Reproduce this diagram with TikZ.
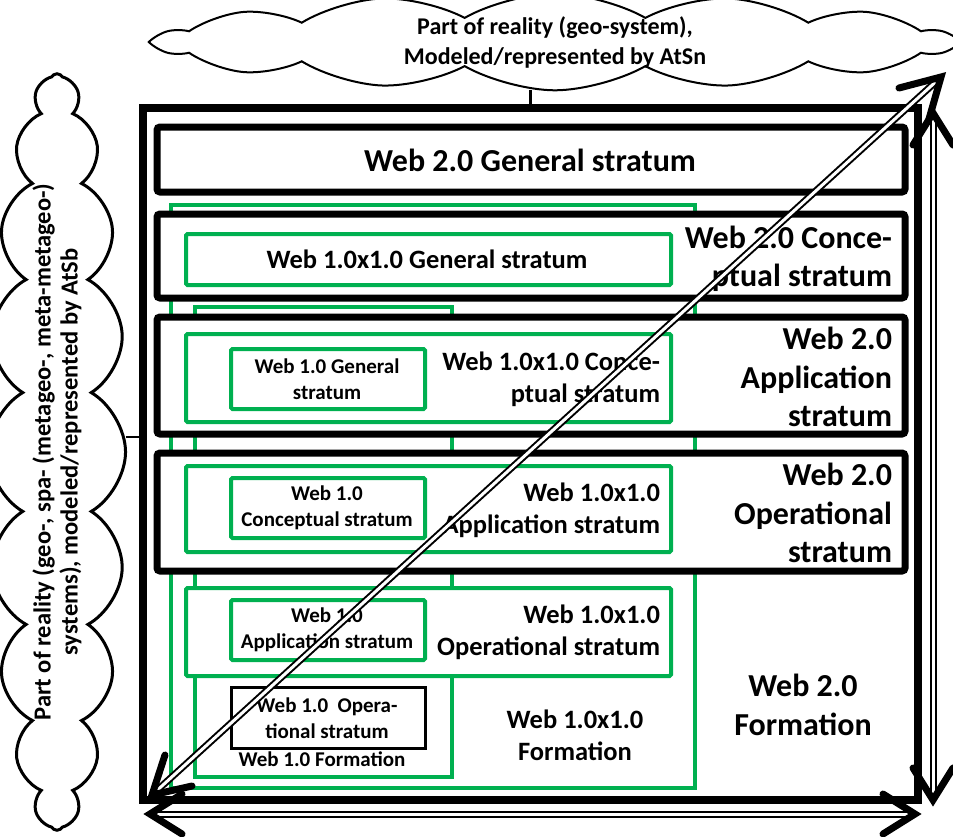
\documentclass[tikz,border=0pt]{standalone}
\usepackage{fontspec}
\setmainfont{Carlito}
\usetikzlibrary{shapes.symbols,fit,calc}
\definecolor{webgreen}{HTML}{00B050}
\begin{document}
\begin{tikzpicture}[x=1pt,y=-1pt,
  every node/.style={inner sep=0pt, outer sep=0pt},
  outerbox/.style={draw, line width=8pt, fill=white},
  blkbox/.style={draw, line width=7pt, fill=white, rounded corners=3pt},
  grnframe/.style={draw=webgreen, line width=4pt},
  grnbox/.style={draw=webgreen, line width=4pt, fill=white, rounded corners=1.5pt},
  thinblk/.style={draw, line width=3pt, fill=white},
  big/.style={font=\fontsize{32}{38.5}\selectfont\bfseries},
  mid/.style={font=\fontsize{26.5}{32}\selectfont\bfseries},
  small/.style={font=\fontsize{21}{26}\selectfont\bfseries},
  cloudtxt/.style={font=\fontsize{24}{30}\selectfont\bfseries},
  shaft/.style={draw, double=white, double distance=3pt, line width=2pt},
  barb/.style={draw, line width=7pt, line cap=round, line join=miter},
  link/.style={draw, line width=2.5pt}]
\useasboundingbox (0,0) rectangle (953,836);

% clouds
\node[draw, cloud, cloud puffs=14, cloud puff arc=60, cloud ignores aspect,
  minimum width=795pt, minimum height=74pt, line width=2pt, cloudtxt,
  align=center, fill=white] (topcloud) at (555,42)
  {Part of reality (geo-system),\\Modeled/represented by AtSn};
\node[draw, cloud, rotate=90, cloud puffs=20, cloud puff arc=120, cloud ignores aspect,
  minimum width=735pt, minimum height=110pt, line width=3pt,
  font=\fontsize{24.5}{27}\selectfont\bfseries,
  align=center] (leftcloud) at (57,452)
  {Part of reality (geo-, spa- (metageo-, meta-metageo-)\\systems), modeled/represented by AtSb};

% outer box
\node[outerbox, fit={(143,108) (918,800)}] (outer) {};
\coordinate (lk) at (0,437);
\draw[link] (topcloud.south -| outer.north) -- (outer.north);
\draw[link] (leftcloud.south |- lk) -- (outer.west |- lk);

% green frames
\node[grnframe, fit={(171,205) (695,788)}] (f11) {};
\node[grnframe, fit={(195,307) (452,777)}] (f1) {};

% Web 2.0 strata
\node[blkbox, fit={(157,127) (905,192)}] (g2gen) {};
\node[blkbox, fit={(157,214) (905,298)}] (g2con) {};
\node[blkbox, fit={(157,317) (905,434)}] (g2app) {};
\node[blkbox, fit={(157,453) (905,571)}] (g2op) {};

% Web 1.0x1.0 strata
\node[grnbox, fit={(186,234) (671,285)}] (b11gen) {};
\node[grnbox, fit={(186,334) (671,422)}] (b11con) {};
\node[grnbox, fit={(186,466) (671,552)}] (b11app) {};
\node[grnbox, fit={(186,588) (671,676)}] (b11op) {};

% Web 1.0 strata
\node[grnbox, fit={(231,349) (425,409)}] (s1gen) {};
\node[grnbox, fit={(231,478) (425,538)}] (s1con) {};
\node[grnbox, fit={(231,600) (425,660)}] (s1app) {};
\node[thinblk, fit={(231,687) (425,748)}] (s1op) {};

% texts
\node[big] (t2gen) at (530,160) {Web 2.0 General stratum};
\node[mid] (t11gen) at (427,259) {Web 1.0x1.0 General stratum};
\node[small, align=center] (ts1gen) at (327,379) {Web 1.0 General\\stratum};
\node[small, align=center] (ts1con) at (327,508) {Web 1.0\\Conceptual stratum};
\node[small, align=center] (ts1app) at (327,630) {Web 1.0\\Application stratum};
\node[small, align=center] (ts1op) at (327,718) {Web 1.0\ \ Opera-\\tional stratum};
\node[big, align=right, anchor=east] (t2con) at (892,259) {Web 2.0 Conce-\\ptual stratum};
\node[big, align=right, anchor=east] (t2app) at (892,377) {Web 2.0\\Application\\stratum};
\node[big, align=right, anchor=east] (t2op) at (892,513) {Web 2.0\\Operational\\stratum};
\node[big, align=center] (t2f) at (803,705) {Web 2.0\\Formation};
\node[mid, align=right, anchor=east] (t11con) at (660,379) {Web 1.0x1.0 Conce-\\ptual stratum};
\node[mid, align=right, anchor=east] (t11app) at (660,510) {Web 1.0x1.0\\Application stratum};
\node[mid, align=right, anchor=east] (t11op) at (660,632) {Web 1.0x1.0\\Operational stratum};
\node[mid, align=center] (t11f) at (575,735) {Web 1.0x1.0\\Formation};
\node[small] (t1f) at (322,759) {Web 1.0 Formation};

% axes arrows
\coordinate (dS) at (152,795); \coordinate (dE) at (941,77);
\coordinate (vT) at (933,113); \coordinate (vB) at (933,800);
\coordinate (hL) at (150,814); \coordinate (hR) at (915,814);
\draw[shaft, shorten <=3pt, shorten >=3pt] (dS) -- (dE);
\draw[barb] ($(dE)+(-42,11)$) -- (dE) -- ($(dE)+(-12,42)$);
\draw[barb] ($(dS)+(40,-9)$) -- (dS) -- ($(dS)+(13,-40)$);
\draw[shaft, shorten <=3pt, shorten >=3pt] (vT) -- (vB);
\draw[barb] ($(vT)+(-20,32)$) -- (vT) -- ($(vT)+(20,32)$);
\draw[barb] ($(vB)+(-20,-32)$) -- (vB) -- ($(vB)+(20,-32)$);
\draw[shaft, shorten <=3pt, shorten >=3pt] (hL) -- (hR);
\draw[barb] ($(hL)+(32,-20)$) -- (hL) -- ($(hL)+(32,20)$);
\draw[barb] ($(hR)+(-32,-20)$) -- (hR) -- ($(hR)+(-32,20)$);
\end{tikzpicture}
\end{document}
